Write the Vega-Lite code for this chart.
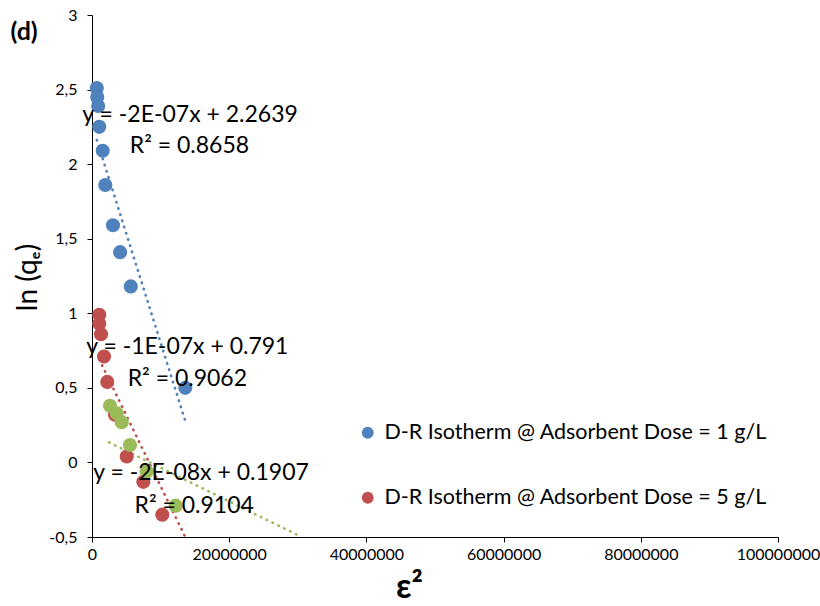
{
  "$schema": "https://vega.github.io/schema/vega-lite/v6.json",
  "width": 686,
  "height": 522,
  "autosize": {"type": "none"},
  "padding": {"left": 92, "top": 15, "right": 42, "bottom": 69},
  "background": "white",
  "config": {
    "font": "Lato",
    "view": {"stroke": null},
    "axis": {"grid": false, "domainColor": "black", "tickColor": "black", "labelColor": "black", "titleColor": "black", "labelFont": "Lato", "titleFont": "Lato"}
  },
  "datasets": {
    "points": [
      {"series": "D-R Isotherm @ Adsorbent Dose = 1 g/L", "eps2": 700000, "lnq": 2.51},
      {"series": "D-R Isotherm @ Adsorbent Dose = 1 g/L", "eps2": 760000, "lnq": 2.45},
      {"series": "D-R Isotherm @ Adsorbent Dose = 1 g/L", "eps2": 900000, "lnq": 2.39},
      {"series": "D-R Isotherm @ Adsorbent Dose = 1 g/L", "eps2": 1060000, "lnq": 2.25},
      {"series": "D-R Isotherm @ Adsorbent Dose = 1 g/L", "eps2": 1560000, "lnq": 2.09},
      {"series": "D-R Isotherm @ Adsorbent Dose = 1 g/L", "eps2": 1940000, "lnq": 1.86},
      {"series": "D-R Isotherm @ Adsorbent Dose = 1 g/L", "eps2": 3060000, "lnq": 1.59},
      {"series": "D-R Isotherm @ Adsorbent Dose = 1 g/L", "eps2": 4100000, "lnq": 1.41},
      {"series": "D-R Isotherm @ Adsorbent Dose = 1 g/L", "eps2": 5650000, "lnq": 1.18},
      {"series": "D-R Isotherm @ Adsorbent Dose = 1 g/L", "eps2": 13600000, "lnq": 0.5},
      {"series": "D-R Isotherm @ Adsorbent Dose = 5 g/L", "eps2": 1060000, "lnq": 0.99},
      {"series": "D-R Isotherm @ Adsorbent Dose = 5 g/L", "eps2": 1060000, "lnq": 0.93},
      {"series": "D-R Isotherm @ Adsorbent Dose = 5 g/L", "eps2": 1310000, "lnq": 0.86},
      {"series": "D-R Isotherm @ Adsorbent Dose = 5 g/L", "eps2": 1750000, "lnq": 0.71},
      {"series": "D-R Isotherm @ Adsorbent Dose = 5 g/L", "eps2": 2230000, "lnq": 0.54},
      {"series": "D-R Isotherm @ Adsorbent Dose = 5 g/L", "eps2": 3350000, "lnq": 0.32},
      {"series": "D-R Isotherm @ Adsorbent Dose = 5 g/L", "eps2": 5060000, "lnq": 0.04},
      {"series": "D-R Isotherm @ Adsorbent Dose = 5 g/L", "eps2": 7480000, "lnq": -0.13},
      {"series": "D-R Isotherm @ Adsorbent Dose = 5 g/L", "eps2": 10250000, "lnq": -0.35},
      {"series": "D-R Isotherm @ Adsorbent Dose = 10 g/L", "eps2": 2620000, "lnq": 0.38},
      {"series": "D-R Isotherm @ Adsorbent Dose = 10 g/L", "eps2": 3600000, "lnq": 0.33},
      {"series": "D-R Isotherm @ Adsorbent Dose = 10 g/L", "eps2": 4330000, "lnq": 0.27},
      {"series": "D-R Isotherm @ Adsorbent Dose = 10 g/L", "eps2": 5540000, "lnq": 0.117},
      {"series": "D-R Isotherm @ Adsorbent Dose = 10 g/L", "eps2": 7970000, "lnq": -0.06},
      {"series": "D-R Isotherm @ Adsorbent Dose = 10 g/L", "eps2": 12200000, "lnq": -0.29}
    ],
    "trends": [
      {"series": "D-R Isotherm @ Adsorbent Dose = 1 g/L", "eps2": 700000, "lnq": 2.162},
      {"series": "D-R Isotherm @ Adsorbent Dose = 1 g/L", "eps2": 13600000, "lnq": 0.278},
      {"series": "D-R Isotherm @ Adsorbent Dose = 5 g/L", "eps2": 1060000, "lnq": 0.69},
      {"series": "D-R Isotherm @ Adsorbent Dose = 5 g/L", "eps2": 13590000, "lnq": -0.5},
      {"series": "D-R Isotherm @ Adsorbent Dose = 10 g/L", "eps2": 2500000, "lnq": 0.134},
      {"series": "D-R Isotherm @ Adsorbent Dose = 10 g/L", "eps2": 30560000, "lnq": -0.5}
    ],
    "labels": [
      {"text": "y = -2E-07x + 2.2639", "eps2": 14300000, "lnq": 2.33},
      {"text": "R² = 0.8658", "eps2": 14200000, "lnq": 2.12},
      {"text": "y = -1E-07x + 0.791", "eps2": 13900000, "lnq": 0.777},
      {"text": "R² = 0.9062", "eps2": 13900000, "lnq": 0.56},
      {"text": "y = -2E-08x + 0.1907", "eps2": 15900000, "lnq": -0.074},
      {"text": "R² = 0.9104", "eps2": 14900000, "lnq": -0.29}
    ],
    "panel": [
      {"text": "(d)", "eps2": -9900000, "lnq": 2.885}
    ]
  },
  "encoding": {
    "x": {
      "field": "eps2", "type": "quantitative",
      "scale": {"domain": [0, 100000000], "nice": false, "zero": false},
      "axis": {
        "values": [0, 20000000, 40000000, 60000000, 80000000, 100000000],
        "format": "d", "labelFontSize": 16, "tickSize": 5, "labelPadding": 4,
        "labelFlush": false, "labelOverlap": false,
        "title": "ε²", "titleFontSize": 34, "titleFontWeight": "bold",
        "titleX": 317, "titleY": 60, "titleBaseline": "alphabetic", "titleAlign": "center"
      }
    },
    "y": {
      "field": "lnq", "type": "quantitative",
      "scale": {"domain": [-0.5, 3], "nice": false, "zero": false},
      "axis": {
        "values": [-0.5, 0, 0.5, 1, 1.5, 2, 2.5, 3],
        "labelExpr": "replace(replace(format(datum.value, '~g'), '.', ','), '\u2212', '-')",
        "labelFontSize": 16, "tickSize": 5, "labelPadding": 10, "labelFlush": false,
        "title": "ln (qₑ)", "titleFontSize": 28, "titleFontWeight": "normal",
        "titleX": -64, "titleY": 262, "titleAngle": -90, "titleAlign": "center", "titleBaseline": "middle"
      }
    }
  },
  "layer": [
    {
      "data": {"name": "trends"},
      "mark": {"type": "line", "strokeWidth": 2.6, "strokeDash": [0.5, 6], "strokeCap": "round", "clip": true},
      "encoding": {
        "detail": {"field": "series"},
        "stroke": {
          "field": "series", "type": "nominal",
          "scale": {"domain": ["D-R Isotherm @ Adsorbent Dose = 1 g/L", "D-R Isotherm @ Adsorbent Dose = 5 g/L", "D-R Isotherm @ Adsorbent Dose = 10 g/L"], "range": ["#4F81BD", "#C0504D", "#9BBB59"]},
          "legend": null
        }
      }
    },
    {
      "data": {"name": "points"},
      "mark": {"type": "point", "filled": true, "opacity": 1, "size": 200, "shape": "circle"},
      "encoding": {
        "color": {
          "field": "series", "type": "nominal",
          "scale": {"domain": ["D-R Isotherm @ Adsorbent Dose = 1 g/L", "D-R Isotherm @ Adsorbent Dose = 5 g/L", "D-R Isotherm @ Adsorbent Dose = 10 g/L"], "range": ["#4F81BD", "#C0504D", "#9BBB59"]},
          "legend": {
            "values": ["D-R Isotherm @ Adsorbent Dose = 1 g/L", "D-R Isotherm @ Adsorbent Dose = 5 g/L"],
            "title": null, "orient": "none", "legendX": 265, "legendY": 407,
            "padding": 0, "labelFontSize": 21.5, "labelFont": "Lato", "labelColor": "black",
            "labelLimit": 600, "symbolSize": 140, "symbolType": "circle", "symbolStrokeWidth": 0,
            "rowPadding": 42, "labelOffset": 6
          }
        }
      }
    },
    {
      "data": {"name": "labels"},
      "mark": {"type": "text", "font": "Lato", "fontSize": 23, "color": "black", "align": "center", "baseline": "middle"},
      "encoding": {"text": {"field": "text"}}
    },
    {
      "data": {"name": "panel"},
      "mark": {"type": "text", "font": "Lato", "fontSize": 25, "fontWeight": "bold", "color": "black", "align": "center", "baseline": "middle"},
      "encoding": {"text": {"field": "text"}}
    }
  ],
  "resolve": {"scale": {"stroke": "independent"}}
}
